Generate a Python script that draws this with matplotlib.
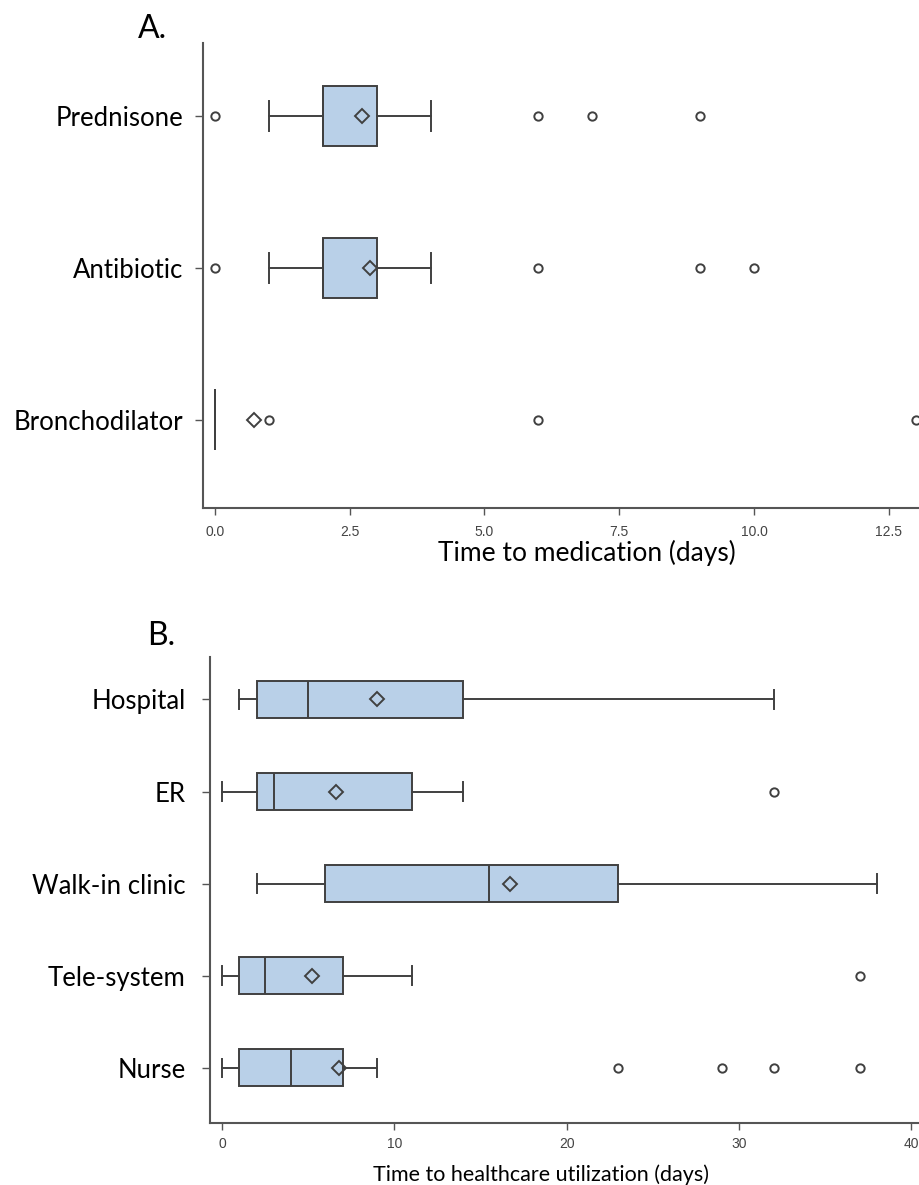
import matplotlib
matplotlib.use("Agg")
import matplotlib.pyplot as plt

# ---------------- Data ----------------
# Panel A: time to medication (days); listed bottom -> top
med_labels = ["Bronchodilator", "Antibiotic", "Prednisone"]
med_whislo = [0, 1, 1]
med_q1 = [0, 2, 2]
med_median = [0, 2, 2]
med_q3 = [0, 3, 3]
med_whishi = [0, 4, 4]
med_mean = [0.72, 2.87, 2.73]
med_fliers = [[1, 6, 13], [0, 6, 9, 10], [0, 6, 7, 9]]
med_xticks = [0.0, 2.5, 5.0, 7.5, 10.0, 12.5]

# Panel B: time to healthcare utilization (days); listed bottom -> top
hc_labels = ["Nurse", "Tele-system", "Walk-in clinic", "ER", "Hospital"]
hc_whislo = [0, 0, 2, 0, 1]
hc_q1 = [1, 1, 6, 2, 2]
hc_median = [4, 2.5, 15.5, 3, 5]
hc_q3 = [7, 7, 23, 11, 14]
hc_whishi = [9, 11, 38, 14, 32]
hc_mean = [6.8, 5.2, 16.7, 6.6, 9.0]
hc_fliers = [[23, 29, 32, 37], [37], [], [32], []]
hc_xticks = [0, 10, 20, 30, 40]

# ---------------- Style ----------------
LABEL_FONT = "Lato"
TICK_FONT = "Liberation Sans"
BOX_FILL = "#b9d0e8"
EDGE = "#404040"
SPINE = "#555555"

fig = plt.figure(figsize=(9.2, 11.85), dpi=100)


def make_stats(labels, wlo, q1, med, q3, whi, mean, fliers):
    out = []
    for i in range(len(labels)):
        out.append(dict(label=labels[i], whislo=wlo[i], q1=q1[i], med=med[i],
                        q3=q3[i], whishi=whi[i], mean=mean[i],
                        fliers=fliers[i]))
    return out


def draw_panel(ax, stats, xticks, xlim, ylim, ypad, xpad, fmt):
    positions = list(range(1, len(stats) + 1))
    ax.bxp(stats, positions=positions, vert=False, widths=0.4,
           patch_artist=True, showmeans=True,
           boxprops=dict(facecolor=BOX_FILL, edgecolor=EDGE, linewidth=1.4),
           medianprops=dict(color=EDGE, linewidth=1.4),
           whiskerprops=dict(color=EDGE, linewidth=1.4),
           capprops=dict(color=EDGE, linewidth=1.4),
           meanprops=dict(marker="D", markerfacecolor="none",
                          markeredgecolor=EDGE, markersize=7,
                          markeredgewidth=1.4),
           flierprops=dict(marker="o", markerfacecolor="none",
                           markeredgecolor=EDGE, markersize=6,
                           markeredgewidth=1.4))
    ax.set_xlim(*xlim)
    ax.set_ylim(*ylim)
    ax.set_xticks(xticks)
    ax.set_xticklabels([fmt(v) for v in xticks], fontfamily=TICK_FONT,
                       fontsize=10, color="#444444")
    ax.set_yticks(positions)
    ax.set_yticklabels([s["label"] for s in stats], fontfamily=LABEL_FONT,
                       fontsize=18.5, color="black")
    for side in ("top", "right"):
        ax.spines[side].set_visible(False)
    for side in ("left", "bottom"):
        ax.spines[side].set_color(SPINE)
        ax.spines[side].set_linewidth(1.5)
    ax.tick_params(axis="y", length=5.5, width=1.0, color=SPINE, pad=ypad)
    ax.tick_params(axis="x", length=5.0, width=1.0, color=SPINE, pad=xpad)


# Panel A
axA = fig.add_axes([0.2207, 0.5713, 0.7793, 0.3924])
statsA = make_stats(med_labels, med_whislo, med_q1, med_median, med_q3,
                    med_whishi, med_mean, med_fliers)
draw_panel(axA, statsA, med_xticks, (-0.22, 13.08), (0.42, 3.48),
           ypad=9, xpad=7, fmt=lambda v: f"{v:.1f}")

# Panel B
axB = fig.add_axes([0.2283, 0.0523, 0.7717, 0.3932])
statsB = make_stats(hc_labels, hc_whislo, hc_q1, hc_median, hc_q3,
                    hc_whishi, hc_mean, hc_fliers)
draw_panel(axB, statsB, hc_xticks, (-0.7, 40.5), (0.4, 5.46),
           ypad=12, xpad=5, fmt=lambda v: f"{v:d}")

# Titles and axis labels
fig.text(138 / 920, 1 - 38 / 1185, "A.", fontfamily=LABEL_FONT, fontsize=23,
         ha="left", va="baseline")
fig.text(147 / 920, 1 - 645 / 1185, "B.", fontfamily=LABEL_FONT, fontsize=23,
         ha="left", va="baseline")
fig.text(587 / 920, 1 - 561 / 1185, "Time to medication (days)",
         fontfamily=LABEL_FONT, fontsize=19, ha="center", va="baseline")
fig.text(541 / 920, 1 - 1181 / 1185, "Time to healthcare utilization (days)",
         fontfamily=LABEL_FONT, fontsize=15.5, ha="center", va="baseline")

fig.savefig("out.png", dpi=100)
